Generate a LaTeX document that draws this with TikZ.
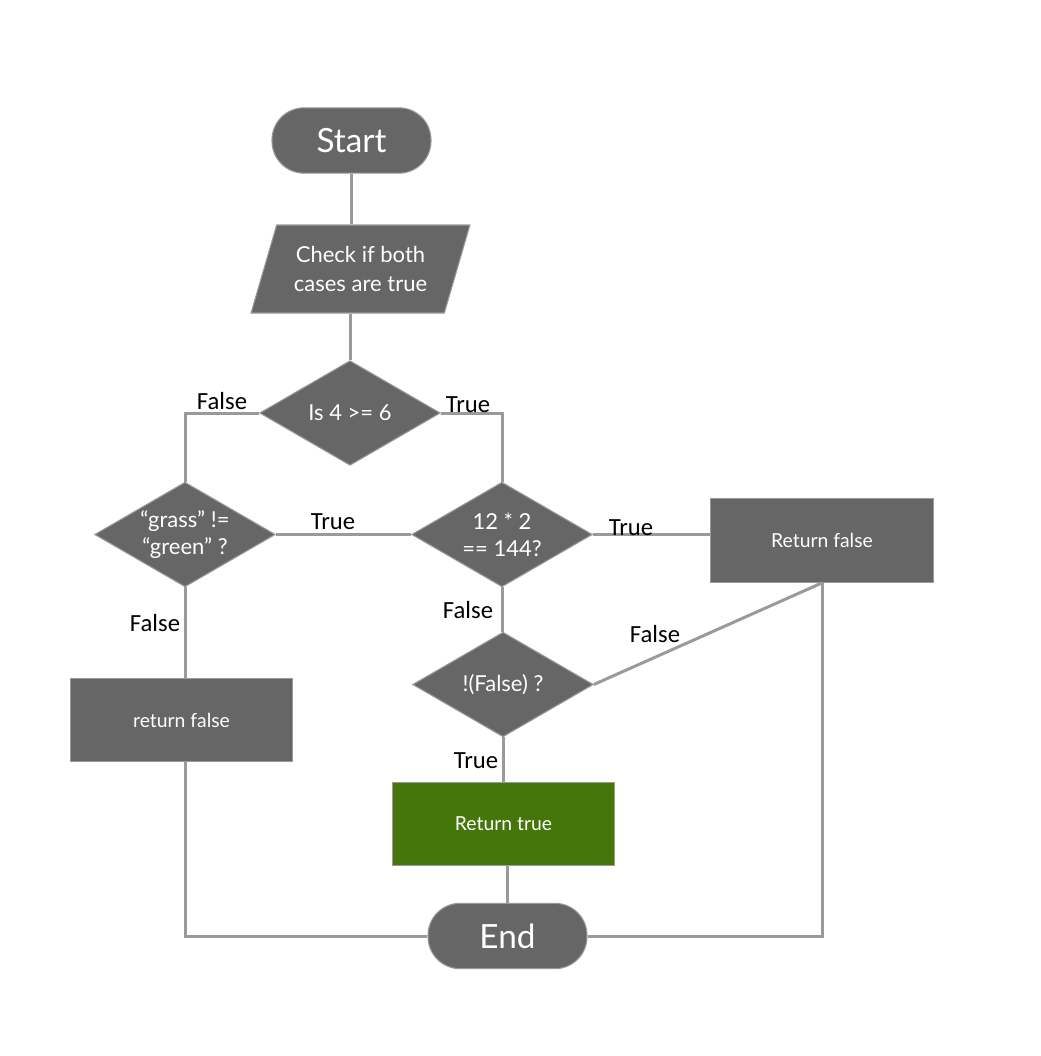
\documentclass[tikz,border=0pt]{standalone}
\usepackage{fontspec}
\setmainfont{Lato}
\newfontfamily\labfont{Carlito}
\usetikzlibrary{shapes.geometric}
\definecolor{boxgray}{HTML}{666666}
\definecolor{edgegray}{HTML}{9A9A9A}
\definecolor{okgreen}{HTML}{44760A}
\begin{document}
\begin{tikzpicture}[x=0.75pt,y=-0.75pt,
  base/.style={fill=boxgray, draw=edgegray, line width=0.8pt, text=white, align=center, inner sep=0pt},
  term/.style={base, rounded corners=24pt, minimum width=119.25pt, minimum height=49pt, font=\fontsize{25}{30}\selectfont},
  iobox/.style={base, trapezium, trapezium left angle=66, trapezium right angle=114, trapezium stretches=true, minimum width=164.25pt, minimum height=66pt, font=\fontsize{16.5}{22}\selectfont},
  decision/.style={base, diamond, aspect=1.75, minimum width=135.5pt, minimum height=78.5pt, font=\fontsize{16.5}{20}\selectfont},
  procbox/.style={base, rectangle, minimum width=166.75pt, minimum height=62.75pt, font=\fontsize{14.5}{17}\selectfont},
  conn/.style={draw=edgegray, line width=2.25pt},
  lab/.style={font=\labfont\fontsize{18.5}{22}\selectfont, text=black, inner sep=0pt}
]
\useasboundingbox (0,0) rectangle (1040,1056);
\fill[white] (0,0) rectangle (1040,1056);

\node[term] (start) at (351.5,140.5) {Start};
\node[iobox] (check) at (360.5,269) {Check if both\\cases are true};
\node[decision] (d1) at (350,413) {Is 4 >= 6};
\node[decision] (d2) at (185,534.5) {“grass” !=\\“green” ?};
\node[decision] (d3) at (502,534.5) {12 * 2\\== 144?};
\node[decision] (d4) at (503,684.5) {!(False) ?};
\node[procbox] (rf) at (822,540.5) {Return false};
\node[procbox] (lf) at (181.5,720) {return false};
\node[procbox, fill=okgreen] (rt) at (503.5,824) {Return true};
\node[term] (end) at (507.5,936) {End};

\draw[conn] (start.south) -- (start.south |- check.north);
\draw[conn] (d1.north |- check.south) -- (d1.north);
\draw[conn] (d1.west) -| (d2.north);
\draw[conn] (d1.east) -| (d3.north);
\draw[conn] (d2.east) -- (d2.east -| d3.west);
\draw[conn] (d3.east) -- (d3.east -| rf.west);
\draw[conn] (d3.south) -- (d3.south |- d4.north);
\draw[conn] (d4.east) -- (rf.south);
\draw[conn] (d4.south) -- (d4.south |- rt.north);
\draw[conn] (rt.south -| end.north) -- (end.north);
\draw[conn] (rf.south) |- (end.east);
\draw[conn] (d2.south) -- (d2.south |- lf.north);
\draw[conn] (lf.south -| d2.south) |- (end.west);

\node[lab] (l1) at (222,401) {False};
\node[lab] (l2) at (468,405) {True};
\node[lab] (l3) at (333,522) {True};
\node[lab] (l4) at (631,528) {True};
\node[lab] (l5) at (468,610) {False};
\node[lab] (l6) at (655,634) {False};
\node[lab] (l7) at (476,761) {True};
\node[lab] (l8) at (155,623) {False};
\end{tikzpicture}
\end{document}
